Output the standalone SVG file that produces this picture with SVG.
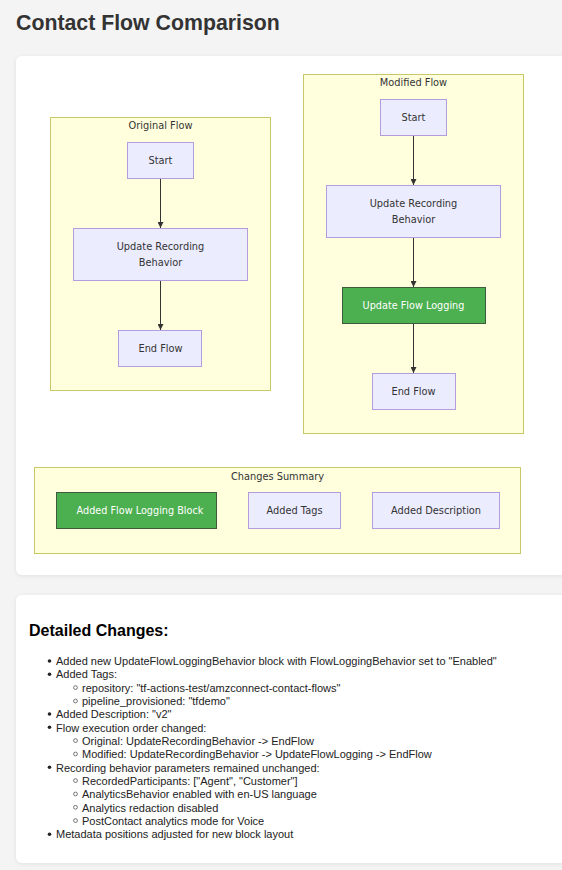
<svg xmlns="http://www.w3.org/2000/svg" width="562" height="870" viewBox="0 0 562 870">
<defs>
<filter id="sh" x="-5%" y="-5%" width="110%" height="110%">
<feDropShadow dx="0" dy="1" stdDeviation="2" flood-color="#000" flood-opacity="0.08"/>
</filter>
<marker id="arr" viewBox="0 0 10 10" refX="10" refY="5" markerWidth="6" markerHeight="6" orient="auto" markerUnits="userSpaceOnUse">
<path d="M0,0 L10,5 L0,10 z" fill="#333"/>
</marker>
</defs>
<style>
.card{fill:#fff;filter:url(#sh)}
.cluster{fill:#ffffde;stroke:#c8c866;stroke-width:1}
.node{fill:#ececff;stroke:#b39ddf;stroke-width:1}
.green{fill:#4caf50;stroke:#3d5c3d;stroke-width:1}
.lbl{font-family:"DejaVu Sans",Verdana,sans-serif;font-size:9.8px;fill:#333;text-anchor:middle}
.wlbl{font-family:"DejaVu Sans",Verdana,sans-serif;font-size:9.7px;fill:#fff;text-anchor:middle}
.edge{stroke:#333;stroke-width:1;fill:none;marker-end:url(#arr)}
.li{font-family:"Liberation Sans",Arial,sans-serif;font-size:11px;fill:#222}
</style>
<rect x="0" y="0" width="562" height="870" fill="#f4f4f4"/>
<text x="16" y="30" font-family="Liberation Sans, Arial, sans-serif" font-size="21.3" font-weight="bold" fill="#333">Contact Flow Comparison</text>
<rect class="card" x="16" y="56" width="566" height="519" rx="6"/>
<rect class="card" x="16" y="595" width="566" height="268" rx="6"/>

<g id="original-flow">
<rect class="cluster" x="50.5" y="117.5" width="220" height="273"/>
<text class="lbl" x="160.5" y="129">Original Flow</text>
</g>
<g id="modified-flow">
<rect class="cluster" x="303.5" y="74.5" width="220" height="359"/>
<text class="lbl" x="413.5" y="86">Modified Flow</text>
</g>
<g id="changes-summary">
<rect class="cluster" x="34.5" y="467.5" width="486" height="86"/>
<text class="lbl" x="277.5" y="480">Changes Summary</text>
</g>

<g id="connectors">
<line class="edge" x1="160.5" y1="178" x2="160.5" y2="228"/>
<line class="edge" x1="160.5" y1="280" x2="160.5" y2="330"/>
<line class="edge" x1="413.5" y1="135" x2="413.5" y2="185"/>
<line class="edge" x1="413.5" y1="237" x2="413.5" y2="287"/>
<line class="edge" x1="413.5" y1="323" x2="413.5" y2="373"/>
</g>

<g id="o-start">
<rect class="node" x="127.5" y="142.5" width="66" height="36"/>
<text class="lbl" x="160.5" y="164">Start</text>
</g>
<g id="o-update-recording">
<rect class="node" x="73.5" y="228.5" width="174" height="52"/>
<text class="lbl" x="160.5" y="250">Update Recording</text>
<text class="lbl" x="160.5" y="266">Behavior</text>
</g>
<g id="o-end">
<rect class="node" x="118.5" y="330.5" width="83" height="36"/>
<text class="lbl" x="160.5" y="352">End Flow</text>
</g>

<g id="m-start">
<rect class="node" x="380.5" y="99.5" width="66" height="36"/>
<text class="lbl" x="413.5" y="121">Start</text>
</g>
<g id="m-update-recording">
<rect class="node" x="326.5" y="185.5" width="174" height="52"/>
<text class="lbl" x="413.5" y="207">Update Recording</text>
<text class="lbl" x="413.5" y="223">Behavior</text>
</g>
<g id="m-update-logging">
<rect class="green" x="342.5" y="287.5" width="143" height="36"/>
<text class="wlbl" x="413.5" y="309">Update Flow Logging</text>
</g>
<g id="m-end">
<rect class="node" x="372.5" y="373.5" width="83" height="36"/>
<text class="lbl" x="413.5" y="395">End Flow</text>
</g>

<g id="s-logging">
<rect class="green" x="56.5" y="492.5" width="160" height="36"/>
<text class="wlbl" x="140" y="514">Added Flow Logging Block</text>
</g>
<g id="s-tags">
<rect class="node" x="248.5" y="492.5" width="92" height="36"/>
<text class="lbl" x="294.5" y="514">Added Tags</text>
</g>
<g id="s-desc">
<rect class="node" x="372.5" y="492.5" width="127" height="36"/>
<text class="lbl" x="436" y="514">Added Description</text>
</g>

<g id="details">
<text x="29" y="636" font-family="Liberation Sans, Arial, sans-serif" font-size="16" font-weight="bold" fill="#000">Detailed Changes:</text>
<g fill="#222">
<circle cx="49.5" cy="661" r="1.8"/>
<circle cx="49.5" cy="674.3" r="1.8"/>
<circle cx="49.5" cy="714" r="1.8"/>
<circle cx="49.5" cy="727.3" r="1.8"/>
<circle cx="49.5" cy="767.3" r="1.8"/>
<circle cx="49.5" cy="834.3" r="1.8"/>
</g>
<g fill="none" stroke="#555" stroke-width="0.8">
<circle cx="75.5" cy="687.6" r="1.9"/>
<circle cx="75.5" cy="701" r="1.9"/>
<circle cx="75.5" cy="740.6" r="1.9"/>
<circle cx="75.5" cy="754" r="1.9"/>
<circle cx="75.5" cy="780.6" r="1.9"/>
<circle cx="75.5" cy="794" r="1.9"/>
<circle cx="75.5" cy="807.3" r="1.9"/>
<circle cx="75.5" cy="820.6" r="1.9"/>
</g>
<text class="li" x="56" y="665">Added new UpdateFlowLoggingBehavior block with FlowLoggingBehavior set to "Enabled"</text>
<text class="li" x="56" y="678.3">Added Tags:</text>
<text class="li" x="82" y="691.6">repository: "tf-actions-test/amzconnect-contact-flows"</text>
<text class="li" x="82" y="705">pipeline_provisioned: "tfdemo"</text>
<text class="li" x="56" y="718.3">Added Description: "v2"</text>
<text class="li" x="56" y="731.6">Flow execution order changed:</text>
<text class="li" x="82" y="745">Original: UpdateRecordingBehavior -&gt; EndFlow</text>
<text class="li" x="82" y="758.3">Modified: UpdateRecordingBehavior -&gt; UpdateFlowLogging -&gt; EndFlow</text>
<text class="li" x="56" y="771.6">Recording behavior parameters remained unchanged:</text>
<text class="li" x="82" y="785">RecordedParticipants: ["Agent", "Customer"]</text>
<text class="li" x="82" y="798.3">AnalyticsBehavior enabled with en-US language</text>
<text class="li" x="82" y="811.6">Analytics redaction disabled</text>
<text class="li" x="82" y="825">PostContact analytics mode for Voice</text>
<text class="li" x="56" y="838.3">Metadata positions adjusted for new block layout</text>
</g>
</svg>
